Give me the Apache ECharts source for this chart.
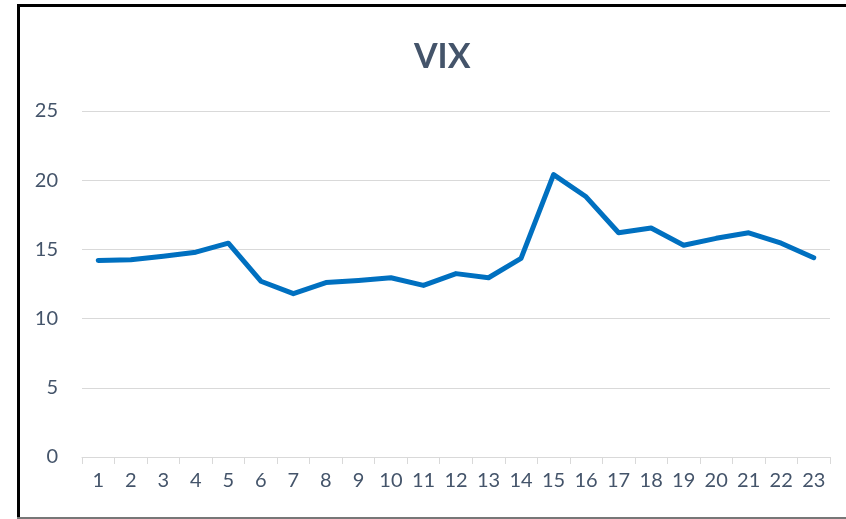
<!DOCTYPE html>
<html><head><meta charset="utf-8">
<script src="https://cdn.jsdelivr.net/npm/echarts@6/dist/echarts.min.js"></script>
<style>html,body{margin:0;padding:0;background:#fff}#c{width:846px;height:519px}</style>
</head><body><div id="c"></div>
<script>
const categories = ['1','2','3','4','5','6','7','8','9','10','11','12','13','14','15','16','17','18','19','20','21','22','23'];
const vixValues = [14.2,14.25,14.5,14.8,15.45,12.7,11.8,12.6,12.75,12.95,12.4,13.25,12.95,14.35,20.4,18.8,16.2,16.55,15.3,15.8,16.2,15.45,14.4];
const yTicks = [0,5,10,15,20,25];
const titleText = 'VIX';
const chart = echarts.init(document.getElementById('c'));
const textColor = '#44546A';
chart.setOption({
  animation:false,
  title:{text:titleText,left:409,top:35,textStyle:{fontFamily:'Lato',fontWeight:'bold',fontSize:34,color:textColor}},
  grid:{left:82,right:16,top:111,bottom:62},
  xAxis:{type:'category',data:categories,boundaryGap:true,
    axisLine:{lineStyle:{color:'#d9d9d9',width:1}},
    axisTick:{show:true,length:7,lineStyle:{color:'#d9d9d9'}},
    axisLabel:{fontFamily:'Lato',fontSize:20,color:textColor,margin:14,interval:0}},
  yAxis:{type:'value',min:yTicks[0],max:yTicks[yTicks.length-1],interval:5,
    axisLine:{show:false},axisTick:{show:false},
    splitLine:{lineStyle:{color:'#d9d9d9',width:1}},
    axisLabel:{fontFamily:'Lato',fontSize:20,color:textColor,margin:24}},
  series:[{type:'line',data:vixValues,symbol:'none',smooth:false,
    lineStyle:{color:'#0070C0',width:5,cap:'round',join:'round'}}],
  graphic:[
    {type:'rect',shape:{x:17,y:4,width:829,height:3},style:{fill:'#000'},z:100},
    {type:'rect',shape:{x:17,y:4,width:3,height:515},style:{fill:'#000'},z:100},
    {type:'rect',shape:{x:17,y:517,width:829,height:2},style:{fill:'#777'},z:100}
  ]
});
</script></body></html>
